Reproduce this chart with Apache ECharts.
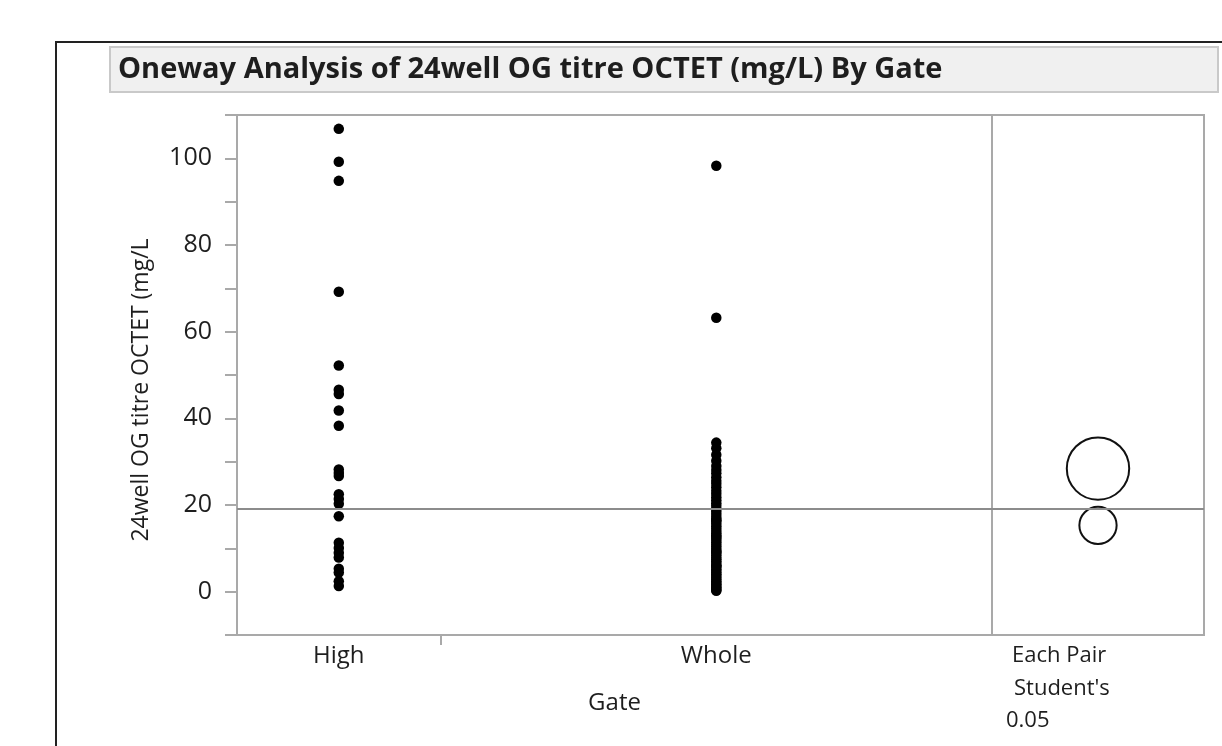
<!DOCTYPE html>
<html>
<head>
<meta charset="utf-8">
<script src="https://cdn.jsdelivr.net/npm/echarts@6.0.0/dist/echarts.min.js"></script>
<style>
  html, body { margin: 0; padding: 0; background: #fff; }
  #main { width: 1222px; height: 746px; }
</style>
</head>
<body>
<div id="main"></div>
<script>
// groups on the x axis
var groups = ['High', 'Whole'];
// 24well OG titre OCTET (mg/L)
var highValues = [106.8, 99.2, 94.8, 69.2, 52.2, 46.6, 45.6, 41.8, 38.3, 28.2, 27.4, 26.7,
  22.5, 21.4, 20.3, 17.4, 11.3, 10.1, 9.0, 7.9, 5.3, 4.4, 2.4, 1.3];
var wholeValues = [98.3, 63.2, 34.4, 33.1, 31.6, 30.2, 29.0, 28.1, 27.3, 26.4, 25.6, 24.9,
  24.1, 23.3, 22.6, 21.8, 21.1, 20.4, 19.8, 19.1, 18.5, 17.9, 17.3, 16.8, 16.2, 15.7,
  15.1, 14.6, 14.0, 13.5, 13.0, 12.4, 11.9, 11.4, 10.9, 10.4, 9.9, 9.4, 8.9, 8.4, 7.9,
  7.5, 7.0, 6.6, 6.1, 5.7, 5.2, 4.8, 4.4, 4.0, 3.6, 3.2, 2.8, 2.4, 2.0, 1.7, 1.3, 1.0,
  0.7, 0.4, 0.2, 12.7, 16.5, 9.2, 5.9];
var grandMean = 19.1;
// comparison circles (centre, radius) for High and Whole
var circleCentres = [28.4, 15.3];
var circleRadii = [7.2, 4.3];
var yTicks = [0, 20, 40, 60, 80, 100];

var chart = echarts.init(document.getElementById('main'));

var nHigh = highValues.length;
var nWhole = wholeValues.length;
var nAll = nHigh + nWhole;
var centres = [nHigh / 2, nHigh + nWhole / 2];

var font = '"Open Sans", "Noto Sans", sans-serif';
var axisGray = '#a9a9a9';
var ink = '#1e1e1e';

var highData = highValues.map(function (v) { return [centres[0], v]; });
var wholeData = wholeValues.map(function (v) { return [centres[1], v]; });
var circleData = circleCentres.map(function (c, i) { return [c, circleRadii[i]]; });

var meanLine = {
  silent: true,
  symbol: 'none',
  label: { show: false },
  lineStyle: { color: '#8c8c8c', width: 2, type: 'solid' },
  data: [{ yAxis: grandMean }]
};

var option = {
  backgroundColor: '#fff',
  animation: false,
  textStyle: { fontFamily: font },
  graphic: [
    { type: 'rect', shape: { x: 56, y: 42, width: 1400, height: 900 },
      style: { fill: 'none', stroke: '#222', lineWidth: 2 }, z: -10 },
    { type: 'rect', shape: { x: 110, y: 47, width: 1108, height: 45 },
      style: { fill: '#f0f0f0', stroke: '#c9c9c9', lineWidth: 2 }, z: -9 },
    { type: 'text', x: 118, y: 70,
      style: { text: 'Oneway Analysis of 24well OG titre OCTET (mg/L) By Gate',
        font: 'bold 29px ' + font, fill: ink, verticalAlign: 'middle' } },
    { type: 'text', x: 1012, y: 656,
      style: { text: 'Each Pair', font: '22px ' + font, fill: ink, verticalAlign: 'middle' } },
    { type: 'text', x: 1014, y: 689,
      style: { text: "Student's", font: '22px ' + font, fill: ink, verticalAlign: 'middle' } },
    { type: 'text', x: 1006, y: 721,
      style: { text: '0.05', font: '22px ' + font, fill: ink, verticalAlign: 'middle' } }
  ],
  grid: [
    { left: 237, top: 115, width: 755, height: 520, show: true,
      borderColor: axisGray, borderWidth: 2, backgroundColor: 'transparent' },
    { left: 992, top: 115, width: 212, height: 520, show: true,
      borderColor: axisGray, borderWidth: 2, backgroundColor: 'transparent' }
  ],
  xAxis: [
    {
      gridIndex: 0, type: 'value', min: 0, max: nAll,
      name: 'Gate', nameLocation: 'middle', nameGap: 56,
      nameTextStyle: { fontSize: 24, color: ink, fontFamily: font },
      axisLine: { show: true, onZero: false, lineStyle: { color: axisGray, width: 2 } },
      axisTick: { show: true, customValues: [nHigh], length: 10, lineStyle: { color: axisGray, width: 2 } },
      axisLabel: {
        customValues: centres, fontSize: 24, color: ink, margin: 9, fontFamily: font,
        formatter: function (v) { return v === centres[0] ? groups[0] : groups[1]; }
      },
      splitLine: { show: false }
    },
    {
      gridIndex: 1, type: 'value', min: 0, max: 1,
      axisLine: { show: false }, axisTick: { show: false },
      axisLabel: { show: false }, splitLine: { show: false }
    }
  ],
  yAxis: [
    {
      gridIndex: 0, type: 'value', min: -10, max: 110, interval: 10,
      name: '24well OG titre OCTET (mg/L', nameLocation: 'middle', nameGap: 84,
      nameTextStyle: { fontSize: 23, color: ink, fontFamily: font, padding: [0, 30, 0, 0] },
      axisLine: { show: true, lineStyle: { color: axisGray, width: 2 } },
      axisTick: { show: true, length: 12, lineStyle: { color: axisGray, width: 2 } },
      axisLabel: {
        fontSize: 25, color: ink, margin: 25, fontFamily: font,
        formatter: function (v) { return yTicks.indexOf(v) >= 0 ? String(v) : ''; }
      },
      splitLine: { show: false }
    },
    {
      gridIndex: 1, type: 'value', min: -10, max: 110,
      axisLine: { show: false }, axisTick: { show: false },
      axisLabel: { show: false }, splitLine: { show: false }
    }
  ],
  series: [
    {
      name: groups[0], type: 'scatter', xAxisIndex: 0, yAxisIndex: 0,
      symbolSize: 10.5, itemStyle: { color: '#000', opacity: 1 },
      data: highData, markLine: meanLine
    },
    {
      name: groups[1], type: 'scatter', xAxisIndex: 0, yAxisIndex: 0,
      symbolSize: 10.5, itemStyle: { color: '#000', opacity: 1 },
      data: wholeData
    },
    {
      name: 'circles', type: 'custom', xAxisIndex: 1, yAxisIndex: 1,
      data: circleData,
      markLine: meanLine,
      renderItem: function (params, api) {
        var c = api.coord([0.5, api.value(0)]);
        var r = api.size([0, api.value(1)])[1];
        return {
          type: 'circle',
          shape: { cx: c[0], cy: c[1], r: r },
          style: { fill: 'none', stroke: '#111', lineWidth: 2 }
        };
      }
    }
  ]
};

chart.setOption(option);
</script>
</body>
</html>
